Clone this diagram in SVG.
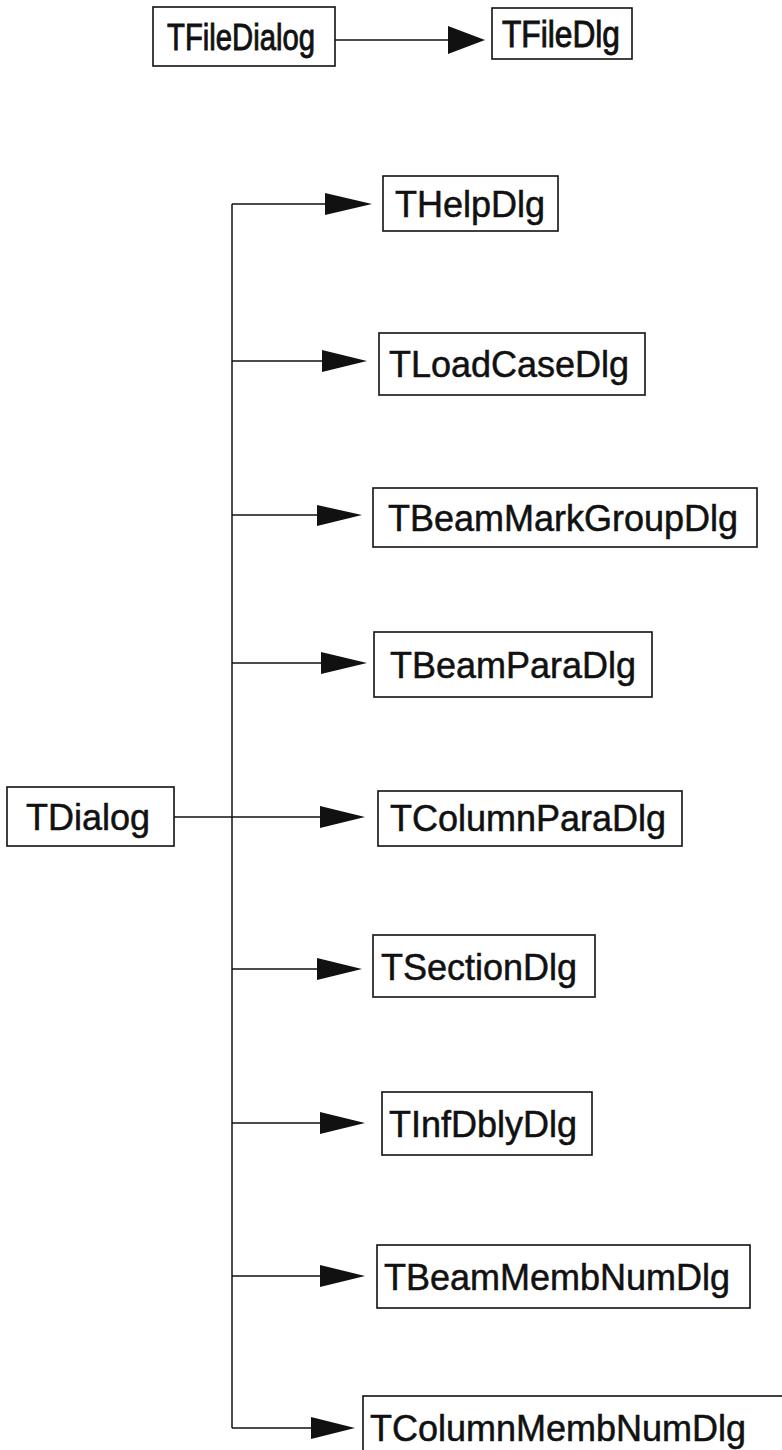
<svg xmlns="http://www.w3.org/2000/svg" width="782" height="1450" viewBox="0 0 782 1450">
<style>
.box{fill:#fff;stroke:#111;stroke-width:1.6}
.lbl{font-family:"Liberation Sans",Arial,sans-serif;font-size:36px;fill:#111;stroke:#111;stroke-width:0.5}
.ln{fill:none;stroke:#111;stroke-width:1.5}
.ah{fill:#111;stroke:none}
</style>
<rect width="782" height="1450" fill="#fff"/>
<g id="connectors">
<path class="ln" d="M335 40H450"/>
<polygon class="ah" points="448,26 485,40 448,54"/>
<path class="ln" d="M232 204V1428"/>
<path class="ln" d="M174 817H330"/>
<path class="ln" d="M232 204H330"/>
<polygon class="ah" points="325,193 372,204 325,215"/>
<path class="ln" d="M232 361H325"/>
<polygon class="ah" points="322,350 367,361 322,372"/>
<path class="ln" d="M232 515H320"/>
<polygon class="ah" points="317,505 362,515 317,526"/>
<path class="ln" d="M232 663H325"/>
<polygon class="ah" points="321,652 367,663 321,674"/>
<polygon class="ah" points="320,806 365,817 320,828"/>
<path class="ln" d="M232 969H320"/>
<polygon class="ah" points="317,958 362,969 317,980"/>
<path class="ln" d="M232 1123H325"/>
<polygon class="ah" points="320,1112 365,1123 320,1134"/>
<path class="ln" d="M232 1276H325"/>
<polygon class="ah" points="320,1265 365,1276 320,1287"/>
<path class="ln" d="M232 1428H315"/>
<polygon class="ah" points="311,1417 355,1428 311,1439"/>
</g>
<g id="TFileDialog"><rect class="box" x="153" y="7" width="182" height="59"/><text class="lbl" x="167" y="50" textLength="148" lengthAdjust="spacingAndGlyphs" style="stroke-width:0.9">TFileDialog</text></g>
<g id="TFileDlg"><rect class="box" x="492" y="8" width="140" height="51"/><text class="lbl" x="502" y="47" textLength="118" lengthAdjust="spacingAndGlyphs" style="stroke-width:0.9">TFileDlg</text></g>
<g id="TDialog"><rect class="box" x="7" y="787" width="167" height="59"/><text class="lbl" x="26" y="830">TDialog</text></g>
<g id="THelpDlg"><rect class="box" x="383" y="176" width="175" height="55"/><text class="lbl" x="395" y="217">THelpDlg</text></g>
<g id="TLoadCaseDlg"><rect class="box" x="379" y="333" width="266" height="62"/><text class="lbl" x="389" y="377">TLoadCaseDlg</text></g>
<g id="TBeamMarkGroupDlg"><rect class="box" x="373" y="488" width="384" height="59"/><text class="lbl" x="388" y="531">TBeamMarkGroupDlg</text></g>
<g id="TBeamParaDlg"><rect class="box" x="374" y="632" width="278" height="65"/><text class="lbl" x="390" y="678">TBeamParaDlg</text></g>
<g id="TColumnParaDlg"><rect class="box" x="378" y="791" width="304" height="55"/><text class="lbl" x="390" y="831">TColumnParaDlg</text></g>
<g id="TSectionDlg"><rect class="box" x="373" y="935" width="222" height="62"/><text class="lbl" x="381" y="980">TSectionDlg</text></g>
<g id="TInfDblyDlg"><rect class="box" x="382" y="1092" width="210" height="63"/><text class="lbl" x="389" y="1137">TInfDblyDlg</text></g>
<g id="TBeamMembNumDlg"><rect class="box" x="377" y="1245" width="373" height="63"/><text class="lbl" x="384" y="1290">TBeamMembNumDlg</text></g>
<g id="TColumnMembNumDlg"><rect class="box" x="363" y="1396" width="425" height="62"/><text class="lbl" x="370" y="1441">TColumnMembNumDlg</text></g>
</svg>
